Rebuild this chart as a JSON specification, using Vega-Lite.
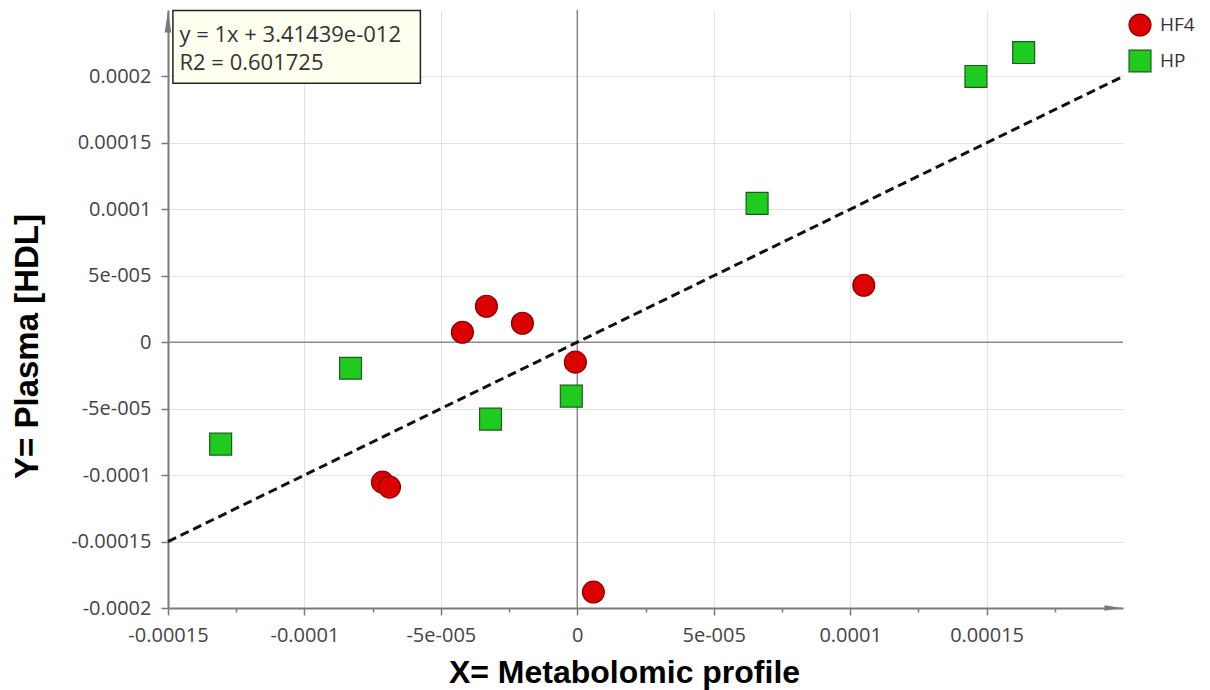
{
  "$schema": "https://vega.github.io/schema/vega-lite/v6.json",
  "width": 955,
  "height": 598,
  "autosize": {"type": "none"},
  "padding": {"left": 168, "top": 10, "right": 87, "bottom": 82},
  "config": {"view": {"stroke": null}, "font": "Open Sans"},
  "datasets": {
    "points": [
      {"group": "HF4", "x": -0.0000421, "y": 0.0000075},
      {"group": "HF4", "x": -0.0000333, "y": 0.0000271},
      {"group": "HF4", "x": -0.0000201, "y": 0.0000143},
      {"group": "HF4", "x": -0.0000007, "y": -0.000015},
      {"group": "HF4", "x": -0.0000714, "y": -0.0001053},
      {"group": "HF4", "x": -0.0000688, "y": -0.000109},
      {"group": "HF4", "x": 0.0000059, "y": -0.000188},
      {"group": "HF4", "x": 0.000105, "y": 0.0000429},
      {"group": "HP", "x": -0.0001307, "y": -0.0000767},
      {"group": "HP", "x": -0.0000831, "y": -0.0000196},
      {"group": "HP", "x": -0.0000318, "y": -0.0000579},
      {"group": "HP", "x": -0.0000022, "y": -0.0000406},
      {"group": "HP", "x": 0.0000659, "y": 0.0001045},
      {"group": "HP", "x": 0.0001461, "y": 0.0002},
      {"group": "HP", "x": 0.0001636, "y": 0.000218}
    ],
    "fit": [
      {"x": -0.00015, "y": -0.00015},
      {"x": 0.0002, "y": 0.0002}
    ],
    "zero": [{"v": 0}],
    "box": [{"x1": -0.0001482, "x2": -0.0000575, "y1": 0.0002497, "y2": 0.0001948}],
    "note": [{"x": -0.0001458, "y": 0.000222, "t": "y = 1x + 3.41439e-012", "t2": "R2 = 0.601725"}],
    "arrowX": [{"x": 0.0001965, "y": -0.0002}],
    "arrowY": [{"x": -0.00015, "y": 0.0002414}]
  },
  "layer": [
    {
      "data": {"name": "zero"},
      "mark": {"type": "rule", "color": "#8a8a8a", "strokeWidth": 1.5},
      "encoding": {"x": {"field": "v", "type": "quantitative"}}
    },
    {
      "data": {"name": "zero"},
      "mark": {"type": "rule", "color": "#8a8a8a", "strokeWidth": 1.5},
      "encoding": {"y": {"field": "v", "type": "quantitative"}}
    },
    {
      "data": {"name": "fit"},
      "mark": {"type": "line", "color": "#111111", "strokeWidth": 3, "strokeDash": [9, 5]},
      "encoding": {
        "x": {"field": "x", "type": "quantitative"},
        "y": {"field": "y", "type": "quantitative"}
      }
    },
    {
      "data": {"name": "points"},
      "mark": {"type": "point", "filled": true, "opacity": 1, "strokeWidth": 1.2},
      "encoding": {
        "x": {
          "field": "x", "type": "quantitative",
          "scale": {"domain": [-0.00015, 0.0002], "nice": false, "zero": false},
          "axis": {
            "title": "X= Metabolomic profile",
            "titleFont": "Liberation Sans", "titleFontSize": 32, "titleFontWeight": "bold", "titleColor": "#000000",
            "titleX": 456, "titleY": 64, "titleAlign": "center", "titleBaseline": "middle",
            "values": [-0.00015, -0.000125, -0.0001, -0.000075, -0.00005, -0.000025, 0, 0.000025, 0.00005, 0.000075, 0.0001, 0.000125, 0.00015, 0.000175],
            "labelExpr": "datum.value == -0.00015 ? '-0.00015' : datum.value == -0.0001 ? '-0.0001' : datum.value == -0.00005 ? '-5e-005' : datum.value == 0 ? '0' : datum.value == 0.00005 ? '5e-005' : datum.value == 0.0001 ? '0.0001' : datum.value == 0.00015 ? '0.00015' : ''",
            "labelFontSize": 20, "labelColor": "#444444", "labelPadding": 10, "labelFlush": false, "labelOverlap": false,
            "domainColor": "#7a7a7a", "domainWidth": 2,
            "tickColor": "#7a7a7a", "tickWidth": 1.5,
            "tickSize": {"condition": {"test": "indexof([-0.00015,-0.0001,-0.00005,0,0.00005,0.0001,0.00015], datum.value) >= 0", "value": 7}, "value": 4},
            "grid": true,
            "gridColor": {"condition": {"test": "indexof([-0.0001,-0.00005,0.00005,0.0001,0.00015], datum.value) >= 0", "value": "#e2e2e2"}, "value": "rgba(0,0,0,0)"},
            "gridWidth": 1
          }
        },
        "y": {
          "field": "y", "type": "quantitative",
          "scale": {"domain": [-0.0002, 0.00025], "nice": false, "zero": false},
          "axis": {
            "title": "Y= Plasma [HDL]",
            "titleFont": "Liberation Sans", "titleFontSize": 33, "titleFontWeight": "bold", "titleColor": "#000000",
            "titleX": -141, "titleY": 336, "titleAlign": "center", "titleBaseline": "middle", "titleAngle": 270,
            "values": [-0.0002, -0.000175, -0.00015, -0.000125, -0.0001, -0.000075, -0.00005, -0.000025, 0, 0.000025, 0.00005, 0.000075, 0.0001, 0.000125, 0.00015, 0.000175, 0.0002, 0.000225],
            "labelExpr": "datum.value == -0.0002 ? '-0.0002' : datum.value == -0.00015 ? '-0.00015' : datum.value == -0.0001 ? '-0.0001' : datum.value == -0.00005 ? '-5e-005' : datum.value == 0 ? '0' : datum.value == 0.00005 ? '5e-005' : datum.value == 0.0001 ? '0.0001' : datum.value == 0.00015 ? '0.00015' : datum.value == 0.0002 ? '0.0002' : ''",
            "labelFontSize": 20, "labelColor": "#444444", "labelPadding": 10, "labelFlush": false, "labelOverlap": false,
            "domainColor": "#7a7a7a", "domainWidth": 2,
            "tickColor": "#7a7a7a", "tickWidth": 1.5,
            "tickSize": {"condition": {"test": "indexof([-0.0002,-0.00015,-0.0001,-0.00005,0,0.00005,0.0001,0.00015,0.0002], datum.value) >= 0", "value": 7}, "value": 4},
            "grid": true,
            "gridColor": {"condition": {"test": "indexof([-0.00015,-0.0001,-0.00005,0.00005,0.0001,0.00015,0.0002], datum.value) >= 0", "value": "#e2e2e2"}, "value": "rgba(0,0,0,0)"},
            "gridWidth": 1
          }
        },
        "shape": {
          "field": "group", "type": "nominal",
          "scale": {"domain": ["HF4", "HP"], "range": ["circle", "square"]},
          "legend": {"title": null, "orient": "none", "legendX": 960, "legendY": 3, "symbolSize": 480, "symbolStrokeWidth": 1.2, "labelFontSize": 19, "labelColor": "#333333", "labelOffset": 8, "rowPadding": 8}
        },
        "fill": {
          "field": "group", "type": "nominal",
          "scale": {"domain": ["HF4", "HP"], "range": ["#dd0000", "#1ecb1e"]},
          "legend": {"title": null, "orient": "none", "legendX": 960, "legendY": 3, "symbolSize": 480, "symbolStrokeWidth": 1.2, "labelFontSize": 19, "labelColor": "#333333", "labelOffset": 8, "rowPadding": 8}
        },
        "stroke": {
          "field": "group", "type": "nominal",
          "scale": {"domain": ["HF4", "HP"], "range": ["#8a0000", "#1d5a1d"]},
          "legend": {"title": null, "orient": "none", "legendX": 960, "legendY": 3, "symbolSize": 480, "symbolStrokeWidth": 1.2, "labelFontSize": 19, "labelColor": "#333333", "labelOffset": 8, "rowPadding": 8}
        },
        "size": {"value": 480}
      }
    },
    {
      "data": {"name": "arrowY"},
      "mark": {"type": "point", "filled": true, "color": "#7a7a7a", "opacity": 1, "shape": "M -0.3 1 L 0 -1 L 0.3 1 Z", "size": 484},
      "encoding": {
        "x": {"field": "x", "type": "quantitative"},
        "y": {"field": "y", "type": "quantitative"}
      }
    },
    {
      "data": {"name": "box"},
      "mark": {"type": "rect", "fill": "#fffff0", "stroke": "#222222", "strokeWidth": 1.5},
      "encoding": {
        "x": {"field": "x1", "type": "quantitative"},
        "x2": {"field": "x2"},
        "y": {"field": "y1", "type": "quantitative"},
        "y2": {"field": "y2"}
      }
    },
    {
      "data": {"name": "note"},
      "mark": {"type": "text", "align": "left", "baseline": "middle", "fontSize": 22, "color": "#333333", "font": "Open Sans", "dy": -12},
      "encoding": {
        "x": {"field": "x", "type": "quantitative"},
        "y": {"field": "y", "type": "quantitative"},
        "text": {"field": "t"}
      }
    },
    {
      "data": {"name": "note"},
      "mark": {"type": "text", "align": "left", "baseline": "middle", "fontSize": 22, "color": "#333333", "font": "Open Sans", "dy": 16},
      "encoding": {
        "x": {"field": "x", "type": "quantitative"},
        "y": {"field": "y", "type": "quantitative"},
        "text": {"field": "t2"}
      }
    },
    {
      "data": {"name": "arrowX"},
      "mark": {"type": "point", "filled": true, "color": "#7a7a7a", "opacity": 1, "shape": "M -1 -0.3 L 1 0 L -1 0.3 Z", "size": 324},
      "encoding": {
        "x": {"field": "x", "type": "quantitative"},
        "y": {"field": "y", "type": "quantitative"}
      }
    }
  ]
}
